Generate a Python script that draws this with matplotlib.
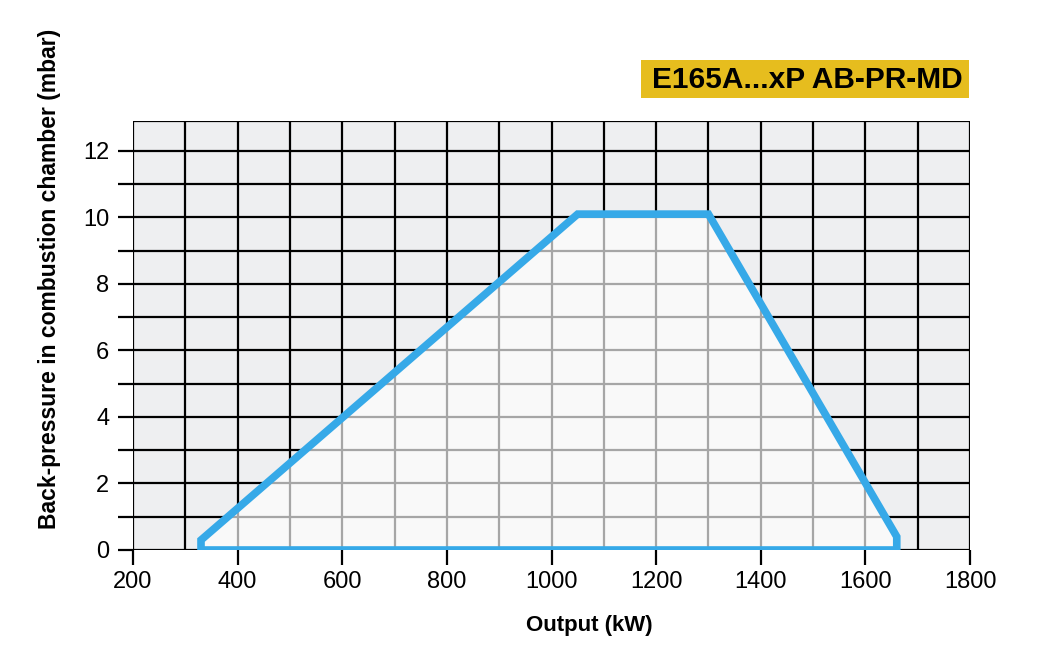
import matplotlib
matplotlib.use("Agg")
import matplotlib.pyplot as plt
from matplotlib.patches import Polygon, Rectangle
import numpy as np

plt.rcParams['font.family'] = ['Liberation Sans', 'DejaVu Sans']

# Working-field envelope (Output kW, back-pressure mbar)
output_kw = [330, 330, 1050, 1300, 1660, 1660]
pressure_mbar = [0.0, 0.3, 10.1, 10.1, 0.4, 0.0]

x_ticks = [200, 400, 600, 800, 1000, 1200, 1400, 1600, 1800]
y_ticks = [0, 2, 4, 6, 8, 10, 12]
x_grid = list(range(200, 1801, 100))
y_grid = list(range(0, 13))

title = "E165A...xP AB-PR-MD"
xlabel = "Output (kW)"
ylabel = "Back-pressure in combustion chamber (mbar)"

fig = plt.figure(figsize=(10.48, 6.62), dpi=100)
ax = fig.add_axes([133/1048, 1-550/662, (970-133)/1048, (550-121)/662])
ax.set_xlim(200, 1800)
ax.set_ylim(0, 12.9)

ax.set_facecolor('#eeeff1')
for s in ax.spines.values():
    s.set_visible(False)

# black outer grid
for xv in x_grid:
    ax.plot([xv, xv], [0, 12.9], color='black', lw=1.6, zorder=1, solid_capstyle='butt')
for yv in y_grid:
    ax.plot([200, 1800], [yv, yv], color='black', lw=1.6, zorder=1, solid_capstyle='butt')
ax.plot([200, 1800], [12.9, 12.9], color='black', lw=1.6, zorder=1)

# light inside region
pts = np.column_stack([output_kw, pressure_mbar])
inner = Polygon(pts, closed=True, facecolor='#f9f9f9', edgecolor='none', zorder=2)
ax.add_patch(inner)
clip = Polygon(pts, closed=True, transform=ax.transData, facecolor='none', edgecolor='none')
ax.add_patch(clip)
for xv in x_grid:
    l, = ax.plot([xv, xv], [0, 12.9], color='#a6a6a6', lw=1.6, zorder=3)
    l.set_clip_path(clip)
for yv in y_grid:
    l, = ax.plot([200, 1800], [yv, yv], color='#a6a6a6', lw=1.6, zorder=3)
    l.set_clip_path(clip)

outline = Polygon(pts, closed=True, facecolor='none', edgecolor='#36a9e8', lw=5.5,
                  joinstyle='miter', zorder=5)
ax.add_patch(outline)

ax.set_xticks(x_ticks)
ax.set_yticks(y_ticks)
ax.set_yticks(list(range(1, 13, 2)), minor=True)
ax.tick_params(axis='both', which='major', length=11, width=1.6, labelsize=17, color='black')
ax.tick_params(axis='y', which='minor', length=11, width=1.6)
ax.tick_params(axis='x', which='major', pad=4)
ax.tick_params(axis='y', which='major', pad=6)

ax.set_xlabel(xlabel, fontsize=16, fontweight='bold')
ax.xaxis.set_label_coords((589-133)/(970-133), -(615-550)/(550-121))
ax.set_ylabel(ylabel, fontsize=16.5, fontweight='bold')
ax.yaxis.set_label_coords(-(133-61)/(970-133), (550-279)/(550-121))

fig.patches.append(Rectangle((641/1048, 1-98/662), (969-641)/1048, 38/662,
                             transform=fig.transFigure, facecolor='#e6bd1e',
                             edgecolor='none'))
fig.text((641+969)/2/1048 + 2/1048, 1-80/662, title, ha='center', va='center',
         fontsize=21.5, fontweight='bold', color='black')

fig.savefig('out.png', dpi=100)
